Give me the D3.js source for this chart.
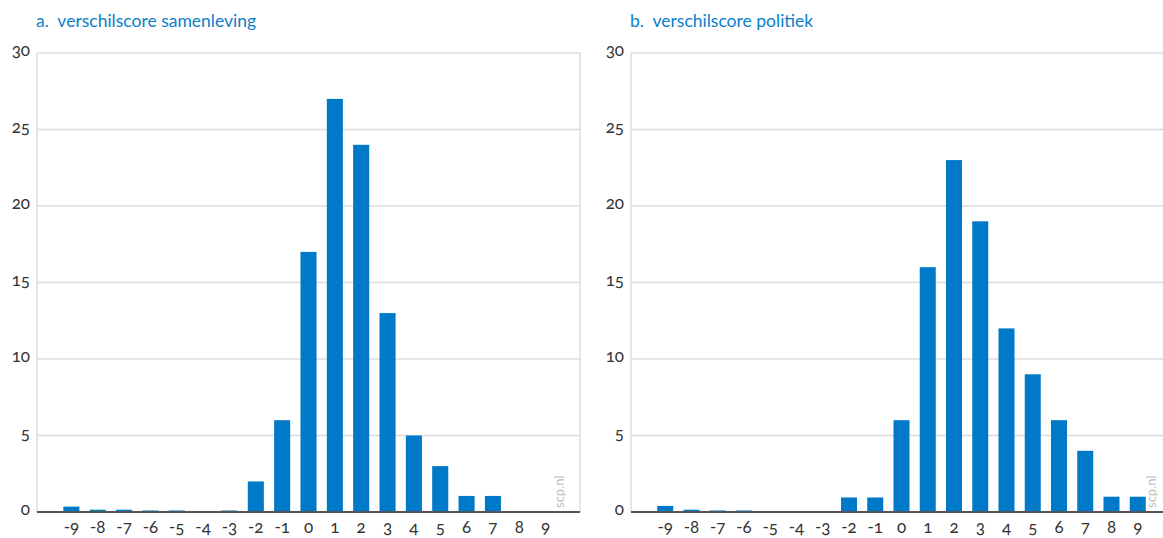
<!DOCTYPE html>
<html>
<head>
<meta charset="utf-8">
<script src="https://d3js.org/d3.v7.min.js"></script>
<style>
  body { margin: 0; background: #fff; }
  svg text { font-family: Lato, "Open Sans", sans-serif; font-variant-numeric: oldstyle-nums; }
</style>
</head>
<body>
<div class="chart"></div>
<script>
var svgWidth = 1163;
var svgHeight = 538;

// scores -9 .. 9
var categories = ["-9", "-8", "-7", "-6", "-5", "-4", "-3", "-2", "-1", "0", "1", "2", "3", "4", "5", "6", "7", "8", "9"];
var samenleving = [0.35, 0.15, 0.15, 0.1, 0.1, 0, 0.1, 2, 6, 17, 27, 24, 13, 5, 3, 1.05, 1.05, 0, 0];
var politiek = [0.4, 0.15, 0.1, 0.1, 0, 0, 0, 0.95, 0.95, 6, 16, 23, 19, 12, 9, 6, 4, 1, 1];
var yTicks = [0, 5, 10, 15, 20, 25, 30];
var titles = ["a.\u00a0 verschilscore samenleving", "b.\u00a0 verschilscore politiek"];

var barColor = "#0079c8";
var titleColor = "#0a7fc9";

var svg = d3.select(".chart").append("svg")
  .attr("width", svgWidth)
  .attr("height", svgHeight);

var plotTop = 53, plotBottom = 512;

var y = d3.scaleLinear()
  .domain([0, 30])
  .range([plotBottom, plotTop]);

function drawPanel(left, right, values, title, clipRight) {
  var g = svg.append("g");

  var x = d3.scaleBand()
    .domain(categories)
    .range([left, right])
    .paddingInner(0.39)
    .paddingOuter(1.0);

  // title
  g.append("text")
    .attr("x", left - 1)
    .attr("y", 27)
    .attr("fill", titleColor)
    .style("font-size", "17.5px")
    .text(title);

  // gridlines
  g.selectAll(".grid")
    .data(yTicks.filter(d => d > 0))
    .enter()
    .append("line")
    .attr("x1", left)
    .attr("x2", right)
    .attr("y1", d => y(d))
    .attr("y2", d => y(d))
    .attr("stroke", "#dcdcdc")
    .attr("stroke-width", 1.5);

  // frame left and right
  g.append("line")
    .attr("x1", left).attr("x2", left)
    .attr("y1", plotTop).attr("y2", plotBottom)
    .attr("stroke", "#dcdcdc")
    .attr("stroke-width", 1.5);
  if (!clipRight) {
    g.append("line")
      .attr("x1", right).attr("x2", right)
      .attr("y1", plotTop).attr("y2", plotBottom)
      .attr("stroke", "#dcdcdc")
      .attr("stroke-width", 1.5);
  }

  // y labels
  g.selectAll(".ylab")
    .data(yTicks)
    .enter()
    .append("text")
    .attr("x", left - 7)
    .attr("y", d => y(d) + 3)
    .attr("text-anchor", "end")
    .attr("fill", "#333")
    .style("font-size", "17px")
    .text(d => d);

  // bars
  g.selectAll(".bar")
    .data(values)
    .enter()
    .append("rect")
    .attr("x", (d, i) => x(categories[i]))
    .attr("width", x.bandwidth())
    .attr("y", d => y(d))
    .attr("height", d => y(0) - y(d))
    .attr("fill", barColor);

  // baseline
  g.append("line")
    .attr("x1", left).attr("x2", right)
    .attr("y1", plotBottom).attr("y2", plotBottom)
    .attr("stroke", "#555")
    .attr("stroke-width", 2);

  // x labels
  g.selectAll(".xlab")
    .data(categories)
    .enter()
    .append("text")
    .attr("x", d => x(d) + x.bandwidth() / 2)
    .attr("y", 533)
    .attr("text-anchor", "middle")
    .attr("fill", "#333")
    .style("font-size", "17px")
    .text(d => d.replace("-", "\u2011"));

  // watermark
  g.append("text")
    .attr("transform", `translate(${right - 16}, ${plotBottom - 4}) rotate(-90)`)
    .attr("fill", "#bdbdbd")
    .style("font-size", "13px")
    .text("scp.nl");
}

drawPanel(37, 580, samenleving, titles[0], false);
drawPanel(631, 1172, politiek, titles[1], true);
</script>
</body>
</html>
